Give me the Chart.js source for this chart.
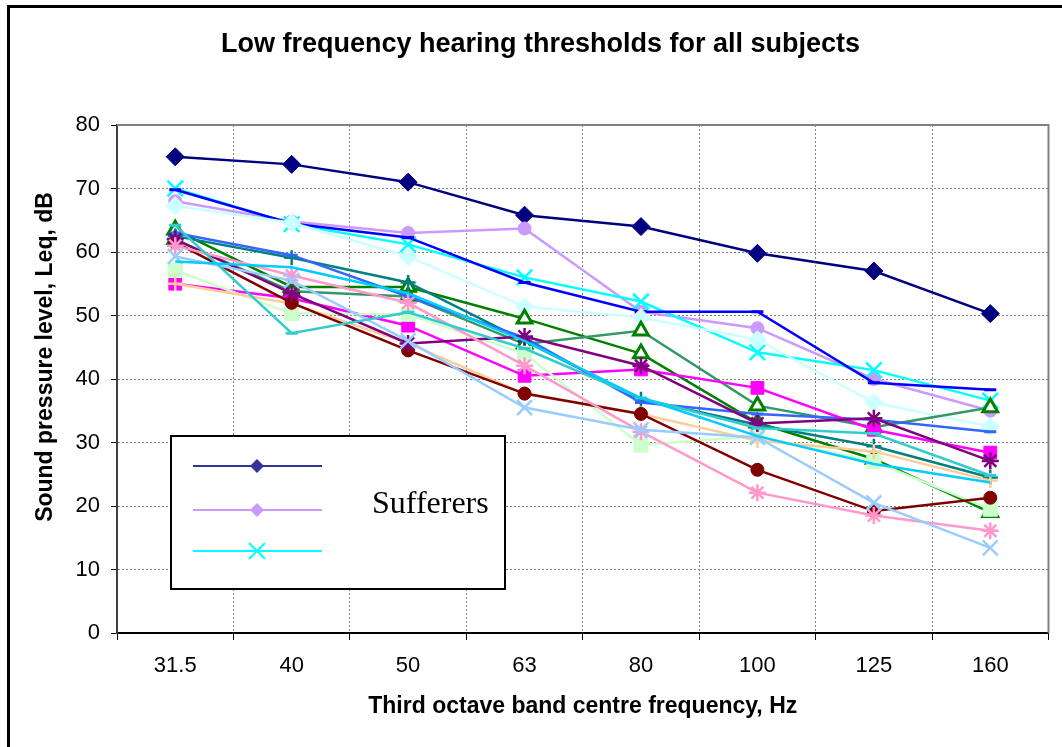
<!DOCTYPE html>
<html>
<head>
<meta charset="utf-8">
<script src="https://cdn.jsdelivr.net/npm/chart.js@4/dist/chart.umd.min.js"></script>
<style>
  body { margin: 0; background: #fff; }
  canvas { display: block; }
</style>
</head>
<body>
<canvas id="chart" width="1062" height="747"></canvas>
<script>
// frequencies, Hz
const bands = ["31.5", "40", "50", "63", "80", "100", "125", "160"];

// thresholds per subject, dB
const navy       = [75.0, 73.8, 71.0, 65.8, 64.0, 59.8, 57.0, 50.3];
const lavender   = [68.0, 64.8, 63.0, 63.7, 50.6, 48.0, 40.0, 35.0];
const cyan       = [70.0, 64.4, 61.2, 56.0, 52.2, 44.2, 41.4, 36.6];
const blue       = [69.8, 64.5, 62.3, 55.2, 50.6, 50.6, 39.4, 38.3];
const paleCyan   = [67.3, 64.6, 59.3, 51.4, 49.7, 46.2, 36.3, 32.5];
const darkGreen  = [63.5, 54.5, 54.5, 49.5, 44.0, 33.1, 27.4, 19.0];
const seaGreen   = [62.0, 53.8, 53.0, 45.5, 47.6, 35.8, 32.4, 35.5];
const teal       = [62.5, 59.1, 55.2, 46.0, 36.8, 32.8, 29.4, 24.5];
const royalBlue  = [63.0, 59.5, 53.0, 46.5, 36.3, 34.5, 33.6, 31.7];
const magenta    = [55.0, 52.7, 48.4, 40.5, 41.5, 38.6, 32.0, 28.4];
const paleGreen  = [57.1, 50.3, 50.2, 44.0, 29.6, 31.0, 27.0, 19.5];
const peach      = [55.0, 51.9, 45.6, 37.7, 34.5, 30.3, 28.6, 24.0];
const maroon     = [61.5, 52.0, 44.5, 37.7, 34.5, 25.7, 19.2, 21.3];
const purple     = [62.0, 53.5, 45.6, 46.7, 42.1, 33.0, 33.8, 27.1];
const pink       = [61.0, 56.3, 52.0, 42.1, 31.7, 22.1, 18.5, 16.1];
const lightBlue  = [59.3, 55.5, 46.0, 35.5, 32.0, 30.8, 20.5, 13.4];
const turquoise  = [64.2, 47.2, 50.5, 44.8, 37.0, 32.3, 31.4, 24.8];
const skyBlue    = [58.5, 57.6, 53.5, 46.0, 37.0, 31.0, 26.6, 23.7];

const yTicks = [0, 10, 20, 30, 40, 50, 60, 70, 80];

function series(data, color, style, opts) {
    return Object.assign({
        data: data,
        borderColor: color,
        backgroundColor: color,
        pointBackgroundColor: color,
        pointBorderColor: color,
        borderWidth: 2.5,
        pointStyle: style,
        pointRadius: 6.5,
        pointBorderWidth: 1,
        tension: 0
    }, opts || {});
}

const datasets = [
    series(skyBlue, "#00CCFF", "circle", { pointRadius: 0 }),
    series(turquoise, "#33CCCC", "line", { pointRadius: 6, pointBorderWidth: 3 }),
    series(lightBlue, "#99CCFF", "crossRot", { pointRadius: 10.5, pointBorderWidth: 2.5 }),
    series(pink, "#FF99CC", "star", { pointRadius: 8.5, pointBorderWidth: 2.5 }),
    series(purple, "#800080", "star", { pointRadius: 8.5, pointBorderWidth: 2.5 }),
    series(maroon, "#800000", "circle", { pointRadius: 6.5 }),
    series(peach, "#FFCC99", "cross", { pointRadius: 7.5, pointBorderWidth: 2.5 }),
    series(paleGreen, "#CCFFCC", "rect", { pointRadius: 10 }),
    series(magenta, "#FF00FF", "rect", { pointRadius: 9 }),
    series(royalBlue, "#3366FF", "line", { pointRadius: 6, pointBorderWidth: 3 }),
    series(teal, "#008080", "cross", { pointRadius: 7.5, pointBorderWidth: 2.5 }),
    series(seaGreen, "#339966", "triangle", { pointRadius: 8.5, pointBorderWidth: 3, pointBackgroundColor: "#fff", pointBorderColor: "#008000" }),
    series(darkGreen, "#008000", "triangle", { pointRadius: 8.5, pointBorderWidth: 3, pointBackgroundColor: "#fff" }),
    series(paleCyan, "#CCFFFF", "rectRot", { pointRadius: 9 }),
    series(blue, "#0000FF", "line", { pointRadius: 6, pointBorderWidth: 3 }),
    series(cyan, "#00FFFF", "crossRot", { pointRadius: 11, pointBorderWidth: 2.5 }),
    series(lavender, "#CC99FF", "circle", { pointRadius: 6.5 }),
    series(navy, "#000080", "rectRot", { pointRadius: 9 })
];

// frame, plot border, y title and the boxed legend
const decor = {
    id: "decor",
    beforeDraw(c) {
        const ctx = c.ctx;
        ctx.save();
        ctx.fillStyle = "#fff";
        ctx.fillRect(0, 0, c.width, c.height);
        ctx.restore();
    },
    afterDraw(c) {
        const ctx = c.ctx;
        const a = c.chartArea;
        ctx.save();
        // plot top / right edge
        ctx.strokeStyle = "#808080";
        ctx.lineWidth = 2;
        ctx.beginPath();
        ctx.moveTo(a.left, a.top);
        ctx.lineTo(a.right, a.top);
        ctx.lineTo(a.right, a.bottom);
        ctx.stroke();
        // outer frame
        ctx.strokeStyle = "#000";
        ctx.lineWidth = 3;
        ctx.strokeRect(8.5, 6.5, 1070, 760);

        // y axis title (sits a little above the plot centre, as in Excel)
        ctx.save();
        ctx.translate(46, 357);
        ctx.rotate(-Math.PI / 2);
        ctx.fillStyle = "#000";
        ctx.font = "bold 23px 'Liberation Sans', Arial, sans-serif";
        ctx.textAlign = "center";
        ctx.textBaseline = "middle";
        ctx.fillText("Sound pressure level, Leq, dB", 0, 0);
        ctx.restore();

        // legend box
        const bx = 171, by = 436, bw = 334, bh = 153;
        ctx.fillStyle = "#fff";
        ctx.fillRect(bx, by, bw, bh);
        ctx.lineWidth = 2;
        ctx.strokeStyle = "#000";
        ctx.strokeRect(bx, by, bw, bh);

        const rows = [
            { y: 466, color: "#333399", mark: "diamond" },
            { y: 510, color: "#CC99FF", mark: "diamond" },
            { y: 551, color: "#00FFFF", mark: "x" }
        ];
        rows.forEach(r => {
            ctx.strokeStyle = r.color;
            ctx.fillStyle = r.color;
            ctx.lineWidth = 2;
            ctx.beginPath();
            ctx.moveTo(193, r.y);
            ctx.lineTo(322, r.y);
            ctx.stroke();
            const mx = 257;
            ctx.beginPath();
            if (r.mark === "diamond") {
                ctx.moveTo(mx, r.y - 7);
                ctx.lineTo(mx + 7, r.y);
                ctx.lineTo(mx, r.y + 7);
                ctx.lineTo(mx - 7, r.y);
                ctx.closePath();
                ctx.fill();
            } else {
                ctx.moveTo(mx - 8, r.y - 8);
                ctx.lineTo(mx + 8, r.y + 8);
                ctx.moveTo(mx + 8, r.y - 8);
                ctx.lineTo(mx - 8, r.y + 8);
                ctx.stroke();
            }
        });
        ctx.fillStyle = "#000";
        ctx.font = "32px 'Liberation Serif', 'Times New Roman', serif";
        ctx.textBaseline = "alphabetic";
        ctx.fillText("Sufferers", 372, 513);
        ctx.restore();
    }
};

chart = new Chart(document.getElementById("chart"), {
    type: "line",
    data: { labels: bands, datasets: datasets },
    options: {
        responsive: false,
        animation: false,
        layout: { padding: { left: 30, right: 11, top: 0, bottom: 0 } },
        plugins: {
            legend: { display: false },
            tooltip: { enabled: false },
            title: {
                display: true,
                text: "Low frequency hearing thresholds for all subjects",
                color: "#000",
                font: { family: "'Liberation Sans', Arial, sans-serif", size: 27, weight: "bold" },
                padding: { top: 28, bottom: 64.6 }
            }
        },
        scales: {
            x: {
                offset: true,
                grid: { offset: true, color: "#808080", tickColor: "#000", tickLength: 7, lineWidth: 1 },
                border: { color: "#000", width: 2, dash: [2, 2] },
                ticks: {
                    color: "#000",
                    padding: 13,
                    maxRotation: 0,
                    font: { family: "'Liberation Sans', Arial, sans-serif", size: 22 }
                },
                title: {
                    display: true,
                    text: "Third octave band centre frequency, Hz",
                    color: "#000",
                    font: { family: "'Liberation Sans', Arial, sans-serif", size: 23, weight: "bold" },
                    padding: { top: 0, bottom: 27 }
                },
                afterFit: s => { s.height = 114; }
            },
            y: {
                min: 0,
                max: 80,
                afterBuildTicks: s => { s.ticks = yTicks.map(v => ({ value: v })); },
                grid: { color: "#808080", tickColor: "#000", tickLength: 6, lineWidth: 1 },
                border: { color: "#404040", width: 2, dash: [2, 2] },
                ticks: {
                    color: "#000",
                    padding: 11,
                    font: { family: "'Liberation Sans', Arial, sans-serif", size: 22 }
                },
                title: { display: false },
                afterFit: s => { s.width = 87; }
            }
        }
    },
    plugins: [decor]
});
</script>
</body>
</html>
